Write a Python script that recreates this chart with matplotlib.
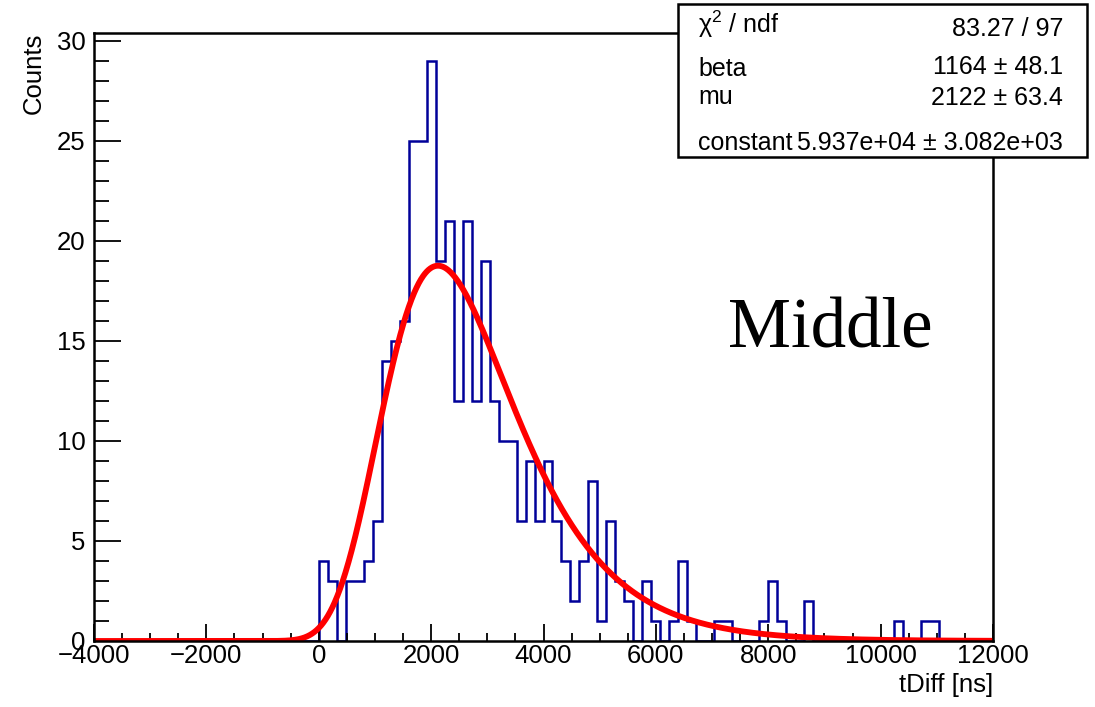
import numpy as np
import matplotlib
matplotlib.use("Agg")
import matplotlib.pyplot as plt
from matplotlib.patches import Rectangle
from matplotlib.ticker import MultipleLocator

plt.rcParams['font.family'] = ['Liberation Sans', 'DejaVu Sans']
plt.rcParams['mathtext.fontset'] = 'custom'
plt.rcParams['mathtext.rm'] = 'Liberation Sans'
plt.rcParams['mathtext.it'] = 'Liberation Sans'

# ---- data ----
x_min, x_max, n_bins = -4000, 12000, 100
counts = [
    0, 0, 0, 0, 0, 0, 0, 0, 0, 0,
    0, 0, 0, 0, 0, 0, 0, 0, 0, 0,
    0, 0, 0, 0, 0, 4, 3, 0, 3, 3,
    4, 6, 14, 15, 16, 25, 25, 29, 19, 21,
    12, 21, 12, 19, 12, 10, 10, 6, 9, 6,
    9, 6, 4, 2, 4, 8, 1, 6, 3, 2,
    0, 3, 1, 0, 1, 4, 1, 0, 0, 1,
    1, 0, 0, 0, 1, 3, 1, 0, 0, 2,
    0, 0, 0, 0, 0, 0, 0, 0, 0, 1,
    0, 0, 1, 1, 0, 0, 0, 0, 0, 0,
]
# fit parameters (Gumbel) as shown in the stats box
fit_beta = 1164.0
fit_mu = 2122.0
fit_const = 5.937e4

stat_labels = [r"χ$^{2}$ / ndf", "beta", "mu", "constant"]
stat_values = ["83.27 / 97", "1164 ± 48.1", "2122 ± 63.4", "5.937e+04 ± 3.082e+03"]

x_label = "tDiff [ns]"
y_label = "Counts"
annotation = "Middle"

# ---- figure ----
W, H = 1095, 707
fig = plt.figure(figsize=(W / 100, H / 100), dpi=100)

def fx(px):
    return px / W

def fy(py):
    return 1 - py / H

ax_l, ax_r, ax_t, ax_b = 94, 993, 33, 641
ax = fig.add_axes([fx(ax_l), fy(ax_b), fx(ax_r) - fx(ax_l), fy(ax_t) - fy(ax_b)])

edges = np.linspace(x_min, x_max, n_bins + 1)
ax.stairs(counts, edges, color='#000099', linewidth=1.8, baseline=0)

xf = np.linspace(x_min, x_max, 2000)
z = (xf - fit_mu) / fit_beta
yf = fit_const / fit_beta * np.exp(-(z + np.exp(-z)))
ax.plot(xf, yf, color='#ff0000', linewidth=4.2, solid_capstyle='butt')

ax.set_xlim(x_min, x_max)
ax.set_ylim(0, 30.4)

ax.xaxis.set_major_locator(MultipleLocator(2000))
ax.xaxis.set_minor_locator(MultipleLocator(500))
ax.yaxis.set_major_locator(MultipleLocator(5))
ax.yaxis.set_minor_locator(MultipleLocator(1))

ax.tick_params(axis='both', which='both', direction='in', top=False, right=False,
               width=1.3, labelsize=18.5, color='black')
ax.tick_params(axis='y', which='major', length=19.5, pad=6)
ax.tick_params(axis='y', which='minor', length=10.5)
ax.tick_params(axis='x', which='major', length=12, pad=2)
ax.tick_params(axis='x', which='minor', length=6)

for s in ax.spines.values():
    s.set_linewidth(1.8)

fig.text(fx(993), fy(692), x_label, ha='right', va='baseline', fontsize=18.5)
fig.text(fx(34), fy(33), y_label, ha='center', va='top', rotation=90, fontsize=18.5)

fig.text(fx(728), fy(347), annotation, ha='left', va='baseline',
         fontsize=51, family=['Liberation Serif', 'DejaVu Serif'])

# stats box
box = Rectangle((fx(678), fy(157)), fx(1087) - fx(678), fy(4) - fy(157),
                transform=fig.transFigure, facecolor='white', edgecolor='black',
                linewidth=1.8, zorder=5)
fig.patches.append(box)

left_base = [33, 76, 104, 150]
right_base = [36, 74, 105, 150]
for lab, val, lb, rb in zip(stat_labels, stat_values, left_base, right_base):
    fig.text(fx(698), fy(lb), lab, ha='left', va='baseline', fontsize=18, zorder=6)
    fig.text(fx(1063), fy(rb), val, ha='right', va='baseline', fontsize=18, zorder=6)

fig.savefig("out.png", dpi=100)
